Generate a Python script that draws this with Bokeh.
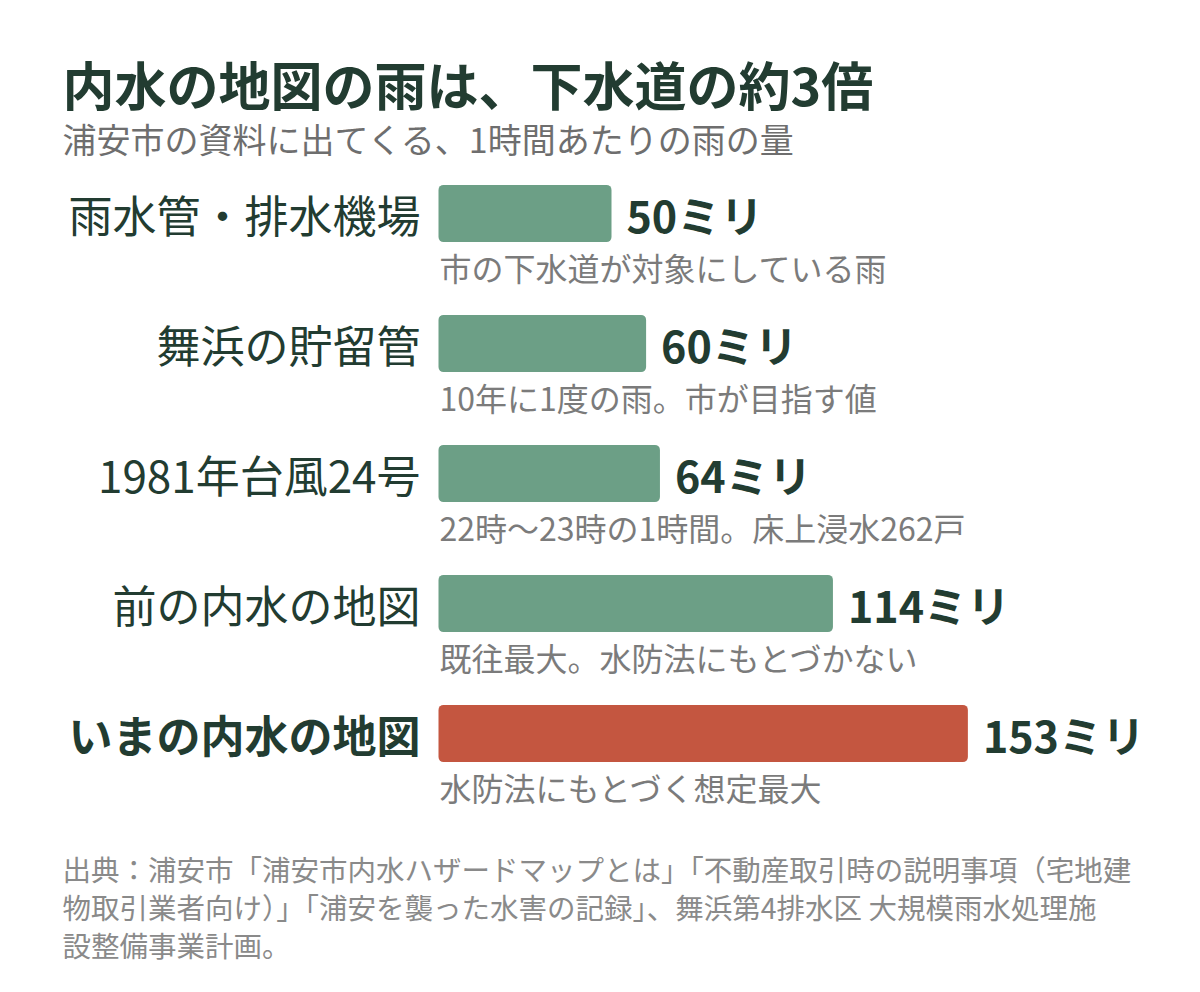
from bokeh.plotting import figure
from bokeh.models import Range1d, Label, ColumnDataSource
from bokeh.core.properties import value
from bokeh.embed import file_html
from bokeh.resources import INLINE

# ---- data ----
categories = ["雨水管・排水機場", "舞浜の貯留管", "1981年台風24号", "前の内水の地図", "いまの内水の地図"]
rain_mm = [50, 60, 64, 114, 153]
notes = [
    "市の下水道が対象にしている雨",
    "10年に1度の雨。市が目指す値",
    "22時〜23時の1時間。床上浸水262戸",
    "既往最大。水防法にもとづかない",
    "水防法にもとづく想定最大",
]
highlight = [False, False, False, False, True]
title_text = "内水の地図の雨は、下水道の約3倍"
subtitle_text = "浦安市の資料に出てくる、1時間あたりの雨の量"
source_lines = [
    "出典：浦安市「浦安市内水ハザードマップとは」「不動産取引時の説明事項（宅地建",
    "物取引業者向け）」「浦安を襲った水害の記録」、舞浜第4排水区 大規模雨水処理施",
    "設整備事業計画。",
]

# ---- style ----
FONT = "Noto Sans CJK JP"
DARK = "#223c31"
GREEN = "#6c9f86"
RED = "#c45640"
NOTE_GRAY = "#7b7b7b"
SRC_GRAY = "#8a8a8a"

W, H = 1184, 976
origin_px = 438.0
px_per_mm = 3.46
row_px = 130.0
first_row_px = 213.0

x_range = Range1d(-origin_px / px_per_mm, (W - origin_px) / px_per_mm)
y_range = Range1d((H - first_row_px) / row_px, -first_row_px / row_px)

p = figure(width=W, height=H, x_range=x_range, y_range=y_range,
           output_backend="svg", toolbar_location=None, min_border=0,
           background_fill_color="white", border_fill_color="white")
p.axis.visible = False
p.grid.visible = False
p.outline_line_color = None

idx = list(range(len(categories)))
src = ColumnDataSource(dict(
    y=idx,
    v=rain_mm,
    cat=categories,
    note=notes,
    vlab=[f"{v}ミリ" for v in rain_mm],
    color=[RED if h else GREEN for h in highlight],
    cweight=["bold" if h else "normal" for h in highlight],
    zero=[0] * len(idx),
))

p.hbar(y="y", left=0, right="v", height=0.44, color="color", source=src,
       border_radius=5, line_color=None)

p.text(x="zero", y="y", text="cat", source=src, x_offset=-18,
       text_align="right", text_baseline="middle",
       text_font=value(FONT), text_font_size="44px",
       text_font_style="cweight", text_color=DARK)

p.text(x="v", y="y", text="vlab", source=src, x_offset=15,
       text_align="left", text_baseline="middle",
       text_font=value(FONT), text_font_size="43px",
       text_font_style="bold", text_color=DARK)

p.text(x="zero", y="y", text="note", source=src, x_offset=1, y_offset=53,
       text_align="left", text_baseline="middle",
       text_font=value(FONT), text_font_size="32px", text_color=NOTE_GRAY)

def screen_label(text, x, y_top_px, size, color, bold=False):
    lab = Label(x=x, y=H - y_top_px, x_units="screen", y_units="screen",
                text=text, text_font=FONT, text_font_size=size,
                text_color=color, text_baseline="middle", text_align="left",
                text_font_style="bold" if bold else "normal")
    p.add_layout(lab)

screen_label(title_text, 62, 83, "52px", DARK, bold=True)
screen_label(subtitle_text, 62, 138, "34px", "#6e6e6e")
for k, line in enumerate(source_lines):
    screen_label(line, 62, 868 + 38 * k, "28.5px", SRC_GRAY)

open("out.html", "w").write(file_html(p, INLINE))
